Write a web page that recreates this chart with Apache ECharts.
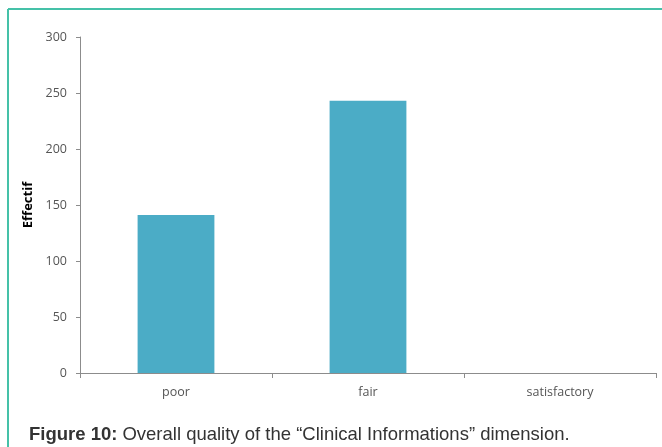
<!DOCTYPE html>
<html>
<head>
<meta charset="utf-8">
<script src="https://cdn.jsdelivr.net/npm/echarts@6/dist/echarts.min.js"></script>
<style>
  html, body { margin: 0; padding: 0; background: #fff; }
  #chart { width: 662px; height: 447px; }
</style>
</head>
<body>
<div id="chart"></div>
<script>
// Quality ratings and their counts
const categories = ['poor', 'fair', 'satisfactory'];
const counts = [141, 243, 0];
const yTicks = [0, 50, 100, 150, 200, 250, 300];

const chart = echarts.init(document.getElementById('chart'));
const axisGray = '#8c8c8c';
const labelGray = '#555555';
const frame = '#45c1a8';

chart.setOption({
  animation: false,
  backgroundColor: '#ffffff',
  grid: { left: 80, right: 6, top: 37, bottom: 74 },
  title: {
    left: 24,
    top: 420,
    text: '{b|Figure 10:} {n|Overall quality of the \u201cClinical Informations\u201d dimension.}',
    textStyle: {
      fontWeight: 'normal',
      rich: {
        b: { fontFamily: 'Liberation Sans', fontWeight: 'bold', fontSize: 18.5, color: '#333333' },
        n: { fontFamily: 'Liberation Sans', fontWeight: 'normal', fontSize: 18.5, color: '#333333' }
      }
    }
  },
  graphic: [
    { type: 'line', shape: { x1: 8, y1: 9, x2: 662, y2: 9 }, style: { stroke: frame, lineWidth: 2 } },
    { type: 'line', shape: { x1: 8, y1: 9, x2: 8, y2: 447 }, style: { stroke: frame, lineWidth: 2 } }
  ],
  xAxis: {
    type: 'category',
    data: categories,
    axisLine: { lineStyle: { color: axisGray, width: 1 } },
    axisTick: { show: true, length: 5, alignWithLabel: false, lineStyle: { color: axisGray } },
    axisLabel: { color: labelGray, fontFamily: 'Open Sans', fontSize: 12.5, margin: 13 }
  },
  yAxis: {
    type: 'value',
    min: yTicks[0],
    max: yTicks[yTicks.length - 1],
    interval: 50,
    name: 'Effectif',
    nameLocation: 'middle',
    nameGap: 39,
    nameRotate: 90,
    nameTextStyle: { fontFamily: 'Open Sans', fontWeight: 'bold', fontSize: 13, color: '#000000' },
    axisLine: { show: true, lineStyle: { color: axisGray, width: 1 } },
    axisTick: { show: true, length: 4, lineStyle: { color: axisGray } },
    axisLabel: { color: labelGray, fontFamily: 'Open Sans', fontSize: 12.5, margin: 13 },
    splitLine: { show: false }
  },
  series: [{
    type: 'bar',
    data: counts,
    barWidth: '40%',
    itemStyle: { color: '#4bacc6' }
  }]
});
</script>
</body>
</html>
